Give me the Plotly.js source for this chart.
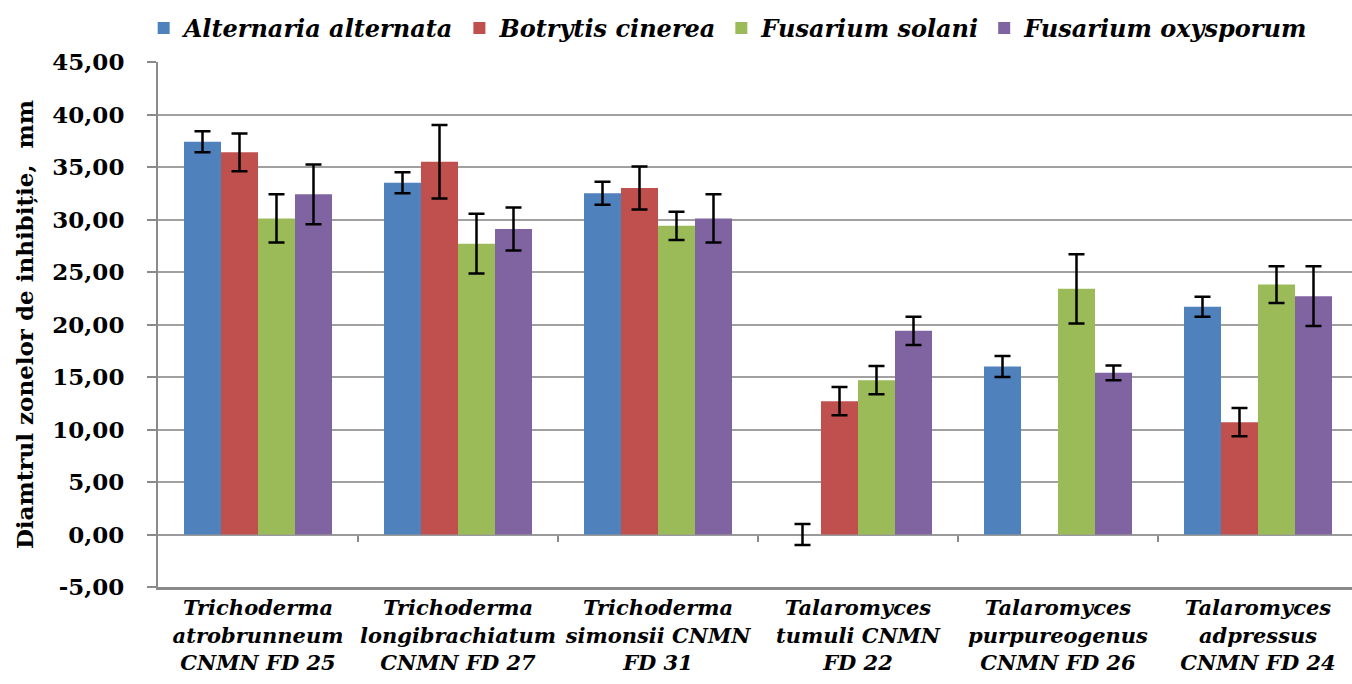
<!DOCTYPE html>
<html>
<head>
<meta charset="utf-8">
<script src="https://cdn.plot.ly/plotly-3.0.1.min.js"></script>
<style>html,body{margin:0;padding:0;background:#fff;overflow:hidden}#chart{width:1352px;height:684px}</style>
</head>
<body>
<div id="chart"></div>
<script>
const categories = [
  'Trichoderma<br>atrobrunneum<br>CNMN FD 25',
  'Trichoderma<br>longibrachiatum<br>CNMN FD 27',
  'Trichoderma<br>simonsii CNMN<br>FD 31',
  'Talaromyces<br>tumuli CNMN<br>FD 22',
  'Talaromyces<br>purpureogenus<br>CNMN FD 26',
  'Talaromyces<br>adpressus<br>CNMN FD 24'
];
const seriesNames = ['Alternaria alternata', 'Botrytis cinerea', 'Fusarium solani', 'Fusarium oxysporum'];
const alternaria    = [37.4, 33.5, 32.5, 0.0, 16.0, 21.7];
const alternariaErr = [1.0, 1.0, 1.1, 1.0, 1.0, 0.95];
const botrytis      = [36.4, 35.5, 33.0, 12.7, null, 10.7];
const botrytisErr   = [1.8, 3.5, 2.05, 1.35, 0, 1.35];
const solani        = [30.1, 27.7, 29.4, 14.7, 23.4, 23.8];
const solaniErr     = [2.3, 2.85, 1.35, 1.35, 3.3, 1.75];
const oxysporum     = [32.4, 29.1, 30.1, 19.4, 15.4, 22.7];
const oxysporumErr  = [2.85, 2.05, 2.3, 1.35, 0.7, 2.85];
const yTickVals = [-5, 0, 5, 10, 15, 20, 25, 30, 35, 40, 45];
const yTickText = ['-5,00', '0,00', '5,00', '10,00', '15,00', '20,00', '25,00', '30,00', '35,00', '40,00', '45,00'];
const groupBounds = [0.5, 1.5, 2.5, 3.5, 4.5];

const colors = ['#4F81BD', '#C0504D', '#9BBB59', '#8064A2'];
const values = [alternaria, botrytis, solani, oxysporum];
const errors = [alternariaErr, botrytisErr, solaniErr, oxysporumErr];
const serif = 'DejaVu Serif, Liberation Serif, serif';

const traces = values.map((v, i) => ({
  type: 'bar',
  name: seriesNames[i],
  x: categories,
  y: v,
  marker: {color: colors[i], line: {width: 0}},
  error_y: {type: 'data', array: errors[i], visible: true, color: '#000', thickness: 2.5, width: 8}
}));
traces.push({type: 'scatter', x: [0], y: [0], xaxis: 'x2', mode: 'markers', marker: {opacity: 0}, showlegend: false, hoverinfo: 'skip'});

const layout = {
  width: 1352, height: 684,
  margin: {l: 158, r: 0, t: 62, b: 97},
  paper_bgcolor: '#fff', plot_bgcolor: '#fff',
  barmode: 'group', bargap: 0.26, bargroupgap: 0,
  showlegend: true,
  legend: {
    orientation: 'h', x: -0.012, xanchor: 'left', y: 1.064, yanchor: 'middle',
    font: {family: serif, size: 24, weight: 'bold', style: 'italic', color: '#000'},
    traceorder: 'normal', itemwidth: 30
  },
  xaxis: {
    type: 'category', range: [-0.5, 5.47],
    showgrid: false, zeroline: false,
    showline: true, linecolor: '#8a8a8a', linewidth: 3,
    ticks: '', tickangle: 0, fixedrange: true,
    tickfont: {family: serif, size: 21, weight: 'bold', style: 'italic', color: '#000'}
  },
  xaxis2: {
    overlaying: 'x', anchor: 'free', position: 0.1, range: [-0.5, 5.47],
    showgrid: false, zeroline: false, showline: false,
    tickmode: 'array', tickvals: groupBounds, ticks: 'outside', ticklen: 6, tickwidth: 2, tickcolor: '#8a8a8a',
    showticklabels: false
  },
  yaxis: {
    range: [-5, 45], tickmode: 'array', tickvals: yTickVals, ticktext: yTickText,
    showgrid: true, gridcolor: '#a0a0a0', gridwidth: 2,
    zeroline: true, zerolinecolor: '#9a9a9a', zerolinewidth: 2,
    showline: true, linecolor: '#8a8a8a', linewidth: 2,
    ticks: 'outside', ticklen: 9, tickwidth: 2, tickcolor: '#8a8a8a',
    ticklabelstandoff: 18, automargin: true,
    tickfont: {family: serif, size: 23, weight: 'bold', color: '#000'},
    title: {text: 'Diamtrul zonelor de inhibiție,  mm', standoff: 12, font: {family: serif, size: 23, weight: 'bold', color: '#000'}}
  }
};
Plotly.newPlot('chart', traces, layout, {displayModeBar: false, staticPlot: true});
</script>
</body>
</html>
